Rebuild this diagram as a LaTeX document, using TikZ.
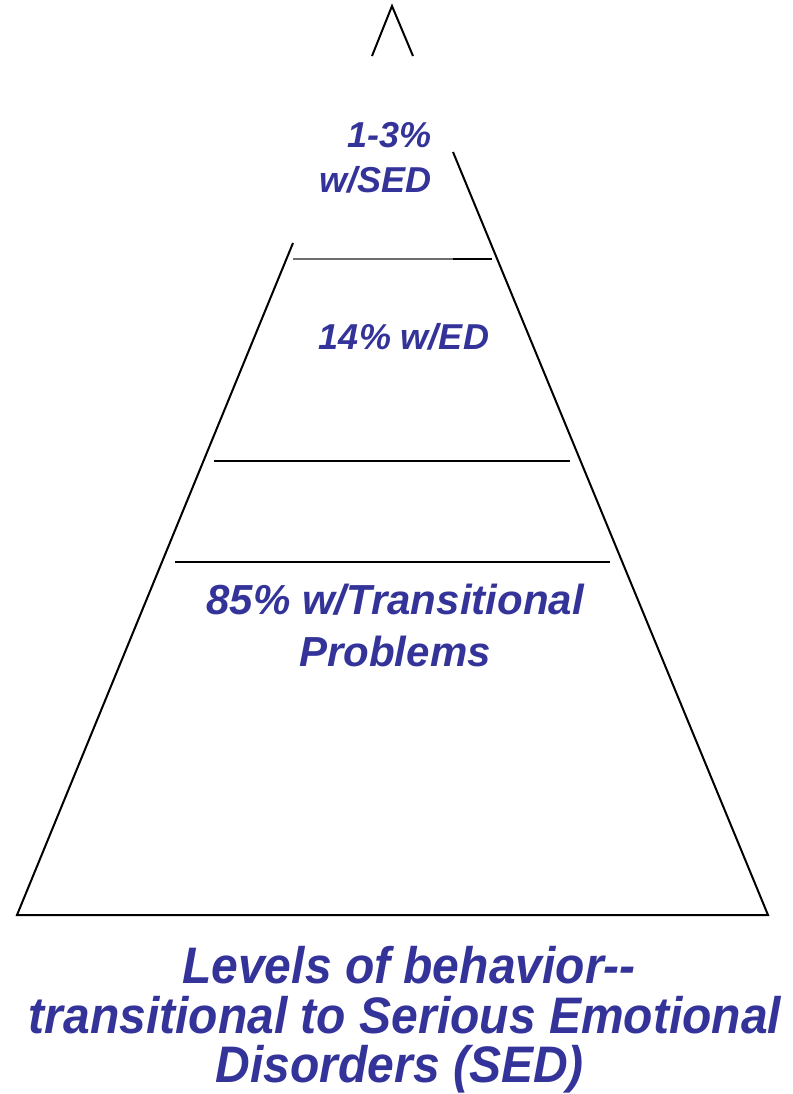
\documentclass[tikz,border=0pt]{standalone}
\usepackage{fontspec}
\usepackage{graphicx}
\setmainfont{Liberation Sans}
\definecolor{labelblue}{RGB}{51,51,153}
\definecolor{rulegray}{RGB}{110,110,110}
% caption lines are set a little taller than the plain face
\newcommand{\tallline}[1]{\scalebox{1}[1.07]{#1}}
\begin{document}
\begin{tikzpicture}[x=1pt,y=-1pt,
  edge/.style={line width=2pt,black},
  thinrule/.style={line width=1.1pt,rulegray},
  lvl/.style={inner sep=0pt,text=labelblue,font=\fontsize{36}{40}\selectfont\bfseries\itshape},
  big/.style={inner sep=0pt,text=labelblue,font=\fontsize{42}{48}\selectfont\bfseries\itshape},
  caption/.style={inner sep=0pt,text=labelblue,font=\fontsize{48}{52}\selectfont\bfseries\itshape}]
  \useasboundingbox (0,0) rectangle (792,1094);

  % corner points of the pyramid
  \coordinate (apex) at (392,6);
  \coordinate (tipL) at (372,56);
  \coordinate (tipR) at (413,56);
  \coordinate (sideR) at (453,152);
  \coordinate (sideL) at (293,243);
  \coordinate (baseL) at (17,915);
  \coordinate (baseR) at (768,915);

  % outline
  \draw[edge,line join=miter] (tipL) -- (apex) -- (tipR);
  \draw[edge] (sideR) -- (baseR) -- (baseL) -- (sideL);

  % level dividers
  \coordinate (d1a) at (293,259);
  \coordinate (d1b) at (453,259);
  \coordinate (d1c) at (492,259);
  \draw[thinrule] (d1a) -- (d1b);
  \draw[edge] (d1b) -- (d1c);
  \coordinate (d2a) at (214,461);
  \coordinate (d2b) at (570,461);
  \draw[edge] (d2a) -- (d2b);
  \coordinate (d3a) at (175,562);
  \coordinate (d3b) at (610,562);
  \draw[line width=1.6pt] (d3a) -- (d3b);

  % level labels
  \node[lvl,anchor=base east] (top1) at (432,148) {1-3\%};
  \node[lvl,anchor=base east] (top2) at (432,193) {w/SED};
  \node[lvl,anchor=base] (mid) at (404,349) {14\% w/ED};
  \node[big,anchor=base] (low1) at (395,614) {85\% w/Transitional};
  \node[big,anchor=base] (low2) at (395,666) {Problems};

  % caption
  \node[caption,anchor=base] (cap1) at (409,983) {\tallline{Levels of behavior-{}-}};
  \node[caption,anchor=base] (cap2) at (405,1033) {\tallline{transitional to Serious Emotional}};
  \node[caption,anchor=base] (cap3) at (400,1082) {\tallline{Disorders (SED)}};
\end{tikzpicture}
\end{document}
